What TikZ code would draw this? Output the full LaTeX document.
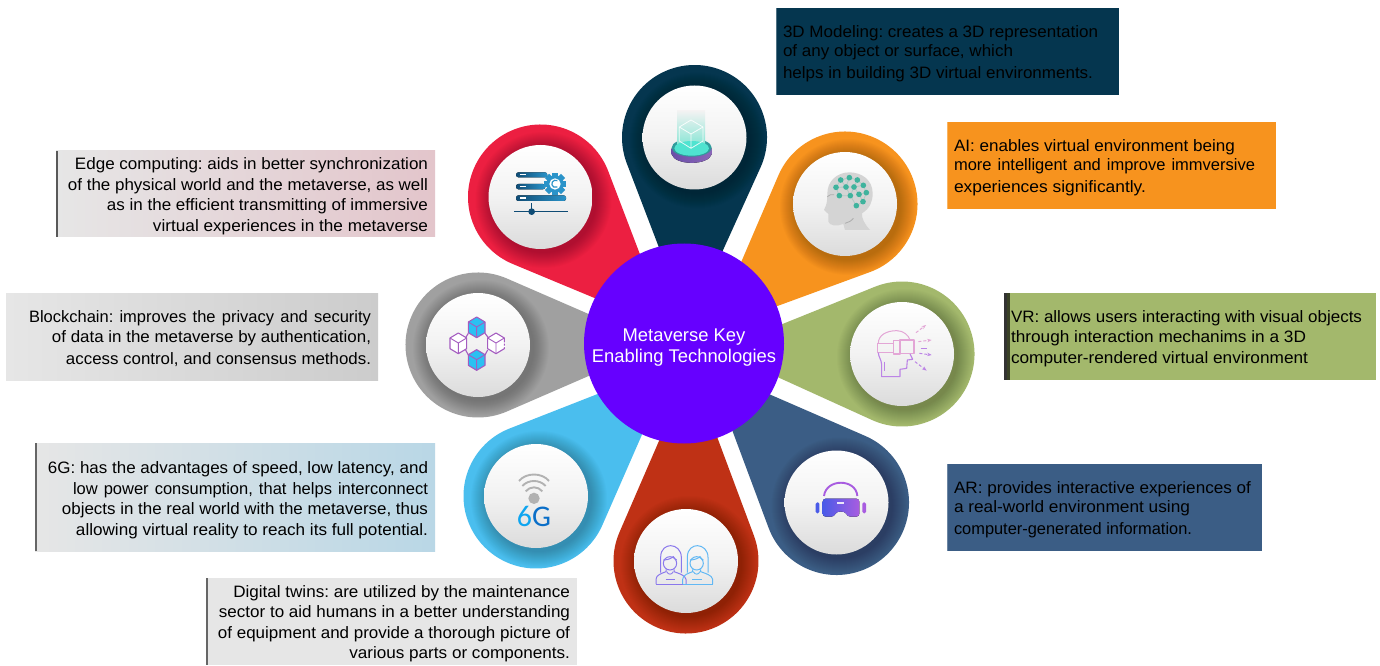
\documentclass[tikz,border=0pt]{standalone}
\usepackage{graphicx}
\usepackage{fontspec}
\setmainfont{Liberation Sans}
\newfontfamily\sixgfont{Carlito}
\usetikzlibrary{calc,arrows.meta}
\definecolor{cDark}{HTML}{05364F}
\definecolor{cRed}{HTML}{EC1F41}
\definecolor{cOrange}{HTML}{F7931E}
\definecolor{cGreen}{HTML}{A3B86C}
\definecolor{cBlue}{HTML}{3B5D85}
\definecolor{cBrown}{HTML}{BF3115}
\definecolor{cSky}{HTML}{4ABEEE}
\definecolor{cGray}{HTML}{A0A0A0}
\definecolor{cHub}{HTML}{6600FF}
\definecolor{gearBlue}{HTML}{2A93C9}
\definecolor{barDark}{HTML}{0F4C75}
\definecolor{teal}{HTML}{3FB39D}
\definecolor{vrPurple}{HTML}{BC84E6}
\definecolor{vrPink}{HTML}{E3A6D6}
\definecolor{cubeMag}{HTML}{A45CC0}
\definecolor{cubeCyan}{HTML}{2BC0F2}
\definecolor{boxGray}{HTML}{E6E6E6}
\definecolor{edgeMid}{HTML}{E6DDDE}
\definecolor{edgeEnd}{HTML}{E3C5CB}
\definecolor{blockEnd}{HTML}{CCCCCC}
\definecolor{sixEnd}{HTML}{B9D7E6}
\definecolor{holoSide}{HTML}{6B4FA8}
\definecolor{holoSideB}{HTML}{8A66B8}
\definecolor{holoRim}{HTML}{2F9C9C}
\definecolor{holoTop}{HTML}{4FE3D0}
\definecolor{holoBeam}{HTML}{8CE6D6}
\definecolor{arBlue}{HTML}{4A5BE8}
\definecolor{arPurple}{HTML}{A85CE0}
\definecolor{twinA}{HTML}{8A78EC}
\definecolor{twinB}{HTML}{62B8F4}
\definecolor{sixA}{HTML}{0EA5F0}
\definecolor{sixB}{HTML}{0B6FC8}
\tikzset{
  zc/.style 2 args={shift={(#1,665-#2)},x=0.33333pt,y=-0.33333pt},
  disc/.style={circle,minimum size=104pt,inner sep=0pt,top color=white,bottom color=black!14,middle color=black!5},
  tbox/.style={inner ysep=0pt,inner xsep=7pt,font=\fontsize{16.5}{20.5}\selectfont\frenchspacing,text=black},
  hubnode/.style={circle,fill=cHub,minimum size=200pt,inner sep=0pt,text=white,align=center,font=\fontsize{18.4}{21}\selectfont}
}
% a line brought to its printed width by scaling, or by stretching its spaces
\newcommand\tl[2]{\resizebox{#1pt}{\height}{#2}}
\newcommand\tj[2]{\makebox[#1pt][s]{#2}}
% invisible strut on a first line: lowers the text block in its box
\newcommand\fs[1]{\rule{0pt}{#1pt}}
% #1 name, #2 cx, #3 cy, #4 tipx, #5 tipy, #6 colour (pixel coordinates, y downward)
\newcommand\petal[6]{%
  \pgfmathsetmacro\dd{veclen(#4-#2,#5-#3)}%
  \pgfmathsetmacro\ang{atan2(#3-#5,#4-#2)}%
  \pgfmathsetmacro\ha{acos(72.5/\dd)}%
  \pgfmathsetmacro\hb{360-\ha}%
  \begin{scope}[shift={(#2,665-#3)},rotate=\ang]
    \fill[#6] (\dd,0) -- (\ha:72.5) arc[start angle=\ha,end angle=\hb,radius=72.5] -- cycle;
  \end{scope}
  \foreach \rr in {53,54,...,68}{\fill[black,opacity=0.017] (#2+3,665-#3-3) circle[radius=\rr];}
  \node[disc] (#1) at (#2,665-#3) {};
}
% cube for the blockchain icon, zoom coordinates
\newcommand\blockcube[3]{%
  \filldraw[fill=#3,draw=cubeMag,line width=1.1pt,line join=round]
    (#1,#2-31)--(#1+25,#2-16)--(#1+25,#2+16)--(#1,#2+31)--(#1-25,#2+16)--(#1-25,#2-16)--cycle;
  \draw[cubeMag,line width=.9pt] (#1-25,#2-16)--(#1,#2-1)--(#1+25,#2-16) (#1,#2-1)--(#1,#2+31);
}
\begin{document}
\begin{tikzpicture}[x=1pt,y=1pt]
\useasboundingbox (0,0) rectangle (1380,665);
\fill[white] (0,0) rectangle (1380,665);

% text boxes
\node[tbox,minimum width=379pt,minimum height=86pt,text width=365pt,align=flush right,left color=boxGray,middle color=edgeMid,right color=edgeEnd] (edgebox) at (245.5,471)
 {\fs{16}\tl{353}{Edge computing: aids in better synchronization}\\\tl{360}{of the physical world and the metaverse, as well}\\\tl{321}{as in the efficient transmitting of immersive}\\\tl{275}{virtual experiences in the metaverse}};
\node[tbox,minimum width=372pt,minimum height=87pt,text width=358pt,align=flush right,left color=boxGray,right color=blockEnd] (blockbox) at (192,328.5)
 {\fs{16}\tj{342}{Blockchain: improves the privacy and security}\\\tl{319}{of data in the metaverse by authentication,}\\[1pt]\tl{305}{access control, and consensus methods.}};
\node[tbox,minimum width=400pt,minimum height=108pt,text width=386pt,align=flush right,left color=boxGray,right color=sixEnd] (sixgbox) at (235,168)
 {\fs{18}\tl{380}{6G: has the advantages of speed, low latency, and}\\\tj{355}{low power consumption, that helps interconnect}\\\tl{366}{objects in the real world with the metaverse, thus}\\\tl{352}{allowing virtual reality to reach its full potential.}};
\node[tbox,minimum width=371pt,minimum height=87pt,text width=357pt,align=flush right,fill=boxGray] (twinbox) at (391.5,43.5)
 {\fs{16}\tl{336.7}{Digital twins: are utilized by the maintenance}\\\tl{351}{sector to aid humans in a better understanding}\\\tl{352}{of equipment and provide a thorough picture of}\\\tl{220.7}{various parts or components.}};
\node[tbox,minimum width=343pt,minimum height=87pt,text width=329pt,align=flush left,fill=cDark] (modelbox) at (947.5,613.5)
 {\fs{16}\tl{315}{3D Modeling: creates a 3D representation}\\[-2pt]\tl{230}{of any object or surface, which}\\[1.5pt]\tl{310}{helps in building 3D virtual environments.}};
\node[tbox,minimum width=329pt,minimum height=87pt,text width=315pt,align=flush left,fill=cOrange] (aibox) at (1111.5,499.5)
 {\fs{16}\tl{281}{AI: enables virtual environment being}\\[-1.5pt]\tj{301}{more intelligent and improve immversive}\\[1pt]\tl{192}{experiences significantly.}};
\node[tbox,minimum width=372pt,minimum height=87pt,text width=358pt,align=flush left,fill=cGreen] (vrbox) at (1190,328.5)
 {\fs{16}\tl{351}{VR: allows users interacting with visual objects}\\\tl{295}{through interaction mechanims in a 3D}\\\tl{297}{computer-rendered virtual environment}};
\node[tbox,minimum width=315pt,minimum height=87pt,text width=301pt,align=flush left,fill=cBlue] (arbox) at (1104.5,157.5)
 {\fs{16}\tl{297}{AR: provides interactive experiences of}\\[-1.5pt]\tl{236}{a real-world environment using}\\[1pt]\tl{238}{computer-generated information.}};
% accent bars on the left of the boxes
\fill[black!65] (edgebox.south west) rectangle ($(edgebox.north west)+(2,0)$);
\fill[black!60] (sixgbox.south west) rectangle ($(sixgbox.north west)+(2,0)$);
\fill[black!60] (twinbox.south west) rectangle ($(twinbox.north west)+(2,0)$);
\fill[black!80] (vrbox.south west) rectangle ($(vrbox.north west)+(3,0)$);
\fill[cGreen!35!black] ($(vrbox.south west)+(3,0)$) rectangle ($(vrbox.north west)+(6,0)$);
\fill[cDark!70!white] (modelbox.south west) rectangle ($(modelbox.north west)+(1,0)$);
\fill[cOrange!70!white] (aibox.south west) rectangle ($(aibox.north west)+(1,0)$);
\fill[cBlue!75!white] (arbox.south west) rectangle ($(arbox.north west)+(1,0)$);

% petals
\petal{discmodel}{694.5}{137.5}{688.8}{325.6}{cDark}
\petal{discai}{845}{204}{712}{330}{cOrange}
\petal{discvr}{902}{354}{718}{350}{cGreen}
\petal{discar}{836.5}{502.5}{709}{368}{cBlue}
\petal{disctwin}{686}{561}{691}{367}{cBrown}
\petal{discsix}{536}{496}{672.6}{364.6}{cSky}
\petal{discblock}{478}{345}{660}{345}{cGray}
\petal{discedge}{540.5}{197}{668.4}{328.8}{cRed}

% hub
\node[hubnode] (hub) at (684,321.5) {\fs{20}Metaverse Key\\Enabling Technologies};

% edge computing icon
\begin{scope}[zc={400}{60}]
  \fill[left color=barDark,right color=gearBlue,rounded corners=2.4pt] (348,337) rectangle (442,352);
  \fill[left color=barDark,right color=gearBlue,rounded corners=2.4pt] (348,372) rectangle (436,388);
  \fill[left color=barDark,right color=gearBlue,rounded corners=2.4pt] (348,406) rectangle (498,423);
  \foreach \yy in {344,380,414}{\fill[white] (360,\yy-2) rectangle (378,\yy+2);}
  \foreach \aa in {0,45,90,135}{\fill[gearBlue,rotate around={\aa:(465,372)}] (456,338) rectangle (474,406);}
  \fill[gearBlue] (465,372) circle[radius=26];
  \fill[white] (465,372) circle[radius=17];
  \draw[gearBlue,line width=1.2pt] (472,362) arc[start angle=-60,end angle=-300,radius=11];
  \draw[barDark,line width=1.4pt] (342,455) -- (504,455);
  \draw[barDark,line width=1.1pt] (395,430) -- (395,455);
  \fill[barDark] (395,455) circle[radius=10];
\end{scope}

% 3D modelling icon
\begin{scope}[zc={650}{95}]
  \fill[left color=holoSide,right color=holoSideB] (65,160) -- (65,178) .. controls (75,212) and (175,212) .. (185,178) -- (185,160) -- cycle;
  \fill[holoRim] (125,158) ellipse[x radius=60,y radius=27];
  \fill[top color=black!5,bottom color=holoBeam] (81,48) rectangle (165,148);
  \fill[holoTop] (125,160) ellipse[x radius=52,y radius=22];
  \draw[white,line width=.8pt,opacity=.85,line join=round] (123,75)--(159,96)--(159,138)--(123,160)--(88,138)--(88,96)--cycle (88,96)--(123,117)--(159,96) (123,117)--(123,160);
\end{scope}

% AI icon
\begin{scope}[zc={690}{60}]
  \fill[black!17] (540,510) .. controls (522,490) and (515,475) .. (516,460) .. controls (540,445) and (548,425) .. (548,400)
    .. controls (548,360) and (515,337) .. (478,337) .. controls (440,337) and (412,365) .. (412,400) .. controls (412,420) and (410,430) .. (408,436)
    -- (402,450) -- (415,462) -- (415,485) .. controls (418,497) and (440,500) .. (460,492) -- (465,510) -- cycle;
  \draw[black!32,line width=.8pt] (412,410) .. controls (418,404) and (425,402) .. (432,404) (465,490) .. controls (475,488) and (485,482) .. (490,475);
  \draw[teal!55!black!35,line width=.8pt] (452,360)--(478,353)--(502,360)--(520,376)--(529,398)--(519,425)--(499,437)
    (452,360)--(468,381)--(492,381)--(507,403)--(519,425) (438,382)--(468,381) (438,382)--(448,407)--(481,407)--(499,437)
    (478,353)--(468,381)--(481,407)--(492,381)--(502,360) (492,381)--(520,376) (507,403)--(529,398) (452,360)--(438,382);
  \foreach \px/\py in {452/360,478/353,502/360,520/376,529/398,519/425,499/437,438/382,468/381,492/381,448/407,481/407,507/403}
    {\fill[teal] (\px,\py) circle[radius=8.5];}
\end{scope}

% VR icon
\begin{scope}[zc={690}{60}]
  \draw[vrPink,line width=1pt,line join=round] (565,850) .. controls (565,825) and (590,812) .. (620,812) .. controls (640,812) and (655,825) .. (660,840);
  \draw[vrPink,line width=1.1pt,line join=round] (563,850) rectangle (610,878) (610,842) rectangle (630,882) (630,840) rectangle (672,880);
  \draw[vrPurple,line width=1.1pt,line join=round] (565,878) .. controls (565,890) and (575,900) .. (575,915) -- (575,950) -- (630,950) -- (630,928) -- (650,925) -- (652,900) -- (668,898) -- (660,882);
  \draw[vrPurple,line width=.9pt] (583,905)--(583,932);
  \foreach \xa/\ya/\xb/\yb/\cc in {678/818/708/795/vrPink,685/845/725/840/vrPink,688/880/725/885/vrPurple,675/905/710/932/vrPurple}
    {\draw[\cc,line width=1pt,densely dashed,-{Stealth[length=4.5pt]}] (\xa,\ya) -- (\xb,\yb);}
  \draw[vrPurple,line width=1pt] (692,865) -- (710,865);
\end{scope}

% AR icon
\begin{scope}[zc={700}{340}]
  \draw[arPurple,line width=1.9pt] (372,468) .. controls (378,415) and (468,415) .. (472,468);
  \fill[left color=arBlue,right color=arPurple,rounded corners=3pt]
    (368,476) -- (478,476) -- (478,530) -- (442,530) .. controls (435,512) and (410,512) .. (403,530) -- (368,530) -- cycle;
  \fill[arBlue,rounded corners=1.5pt] (347,487) rectangle (358,520);
  \fill[arPurple,rounded corners=1.5pt] (487,487) rectangle (498,520);
  \fill[white,opacity=.85] (412,487) rectangle (432,492);
\end{scope}

% digital twins icon
\begin{scope}[zc={440}{400}]
  \foreach \ox/\cc in {0/twinA,80/twinB}{
    \begin{scope}[xshift=\ox*0.33333pt]
    \draw[\cc,line width=1pt,line join=round] (662,518) -- (662,472) .. controls (662,445) and (680,437) .. (692,437) .. controls (708,437) and (724,450) .. (724,472) -- (724,518);
    \draw[\cc,line width=1pt] (690,490) circle[radius=20];
    \draw[\cc,line width=1pt] (670,480) .. controls (685,480) and (695,474) .. (700,470) .. controls (704,476) and (707,479) .. (710,480);
    \draw[\cc,line width=1pt,line join=round] (648,552) -- (648,538) .. controls (648,525) and (665,520) .. (678,515) -- (678,508) (702,508) -- (702,515) .. controls (715,520) and (736,525) .. (738,538) -- (738,552);
    \draw[\cc,line width=.9pt] (680,515) .. controls (685,525) and (695,525) .. (700,515);
    \draw[\cc,line width=.9pt] (677,537) -- (705,537);
    \end{scope}}
  \draw[twinA,line width=1pt] (648,552) -- (730,552);
  \draw[twinB,line width=1pt] (730,552) -- (818,552);
\end{scope}

% 6G icon
\begin{scope}[zc={440}{400}]
  \fill[black!30] (282,295) circle[radius=17];
  \draw[black!30,line width=1.9pt] (257,274) .. controls (270,258) and (294,258) .. (307,274);
  \draw[black!30,line width=1.9pt] (247,258) .. controls (265,238) and (299,238) .. (317,258);
  \draw[black!30,line width=1.9pt] (237,243) .. controls (258,217) and (306,217) .. (327,243);
  \node[inner sep=0pt,font=\sixgfont\fontsize{30}{30}\selectfont] (sixglabel) at (282,350) {\textcolor{sixA}{6}\textcolor{sixB}{G}};
\end{scope}

% blockchain icon
\begin{scope}[zc={435}{305}]
  \draw[cubeMag,line width=1.1pt] (100,85)--(92,98) (150,85)--(160,98) (92,135)--(100,150) (158,135)--(150,150);
  \blockcube{125}{67}{cubeCyan}
  \blockcube{125}{165}{cubeCyan}
  \blockcube{70}{115}{white}
  \blockcube{183}{115}{white}
  \fill[white] (203,112) rectangle (212,116) (203,122) rectangle (212,126);
\end{scope}
\end{tikzpicture}
\end{document}
